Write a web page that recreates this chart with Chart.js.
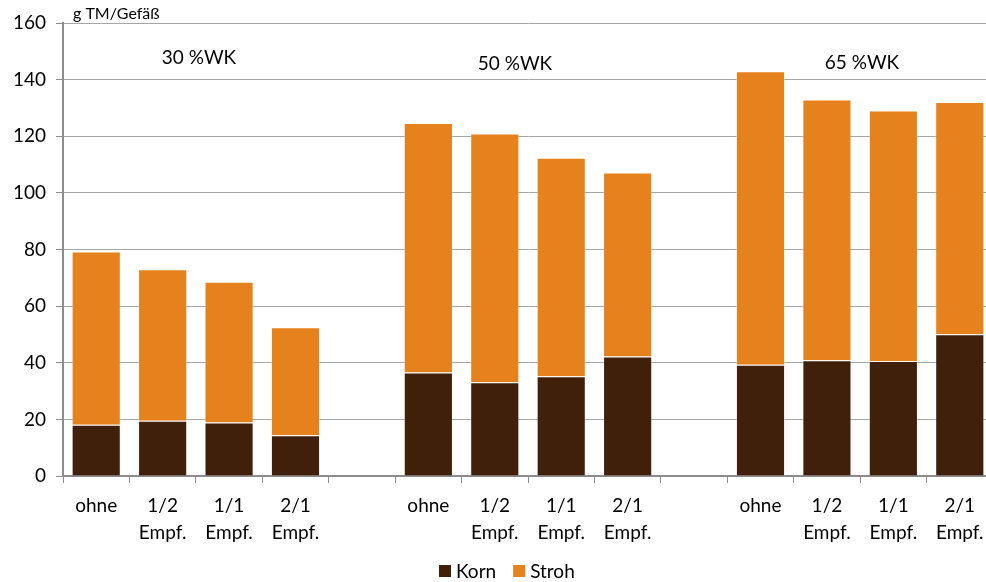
<!DOCTYPE html>
<html lang="de">
  <head>
    <meta charset="UTF-8" />
    <title>g TM/Gefäß</title>
    <script src="https://cdn.jsdelivr.net/npm/chart.js"></script>
    <style>
      html, body { margin: 0; padding: 0; background: #fff; overflow: hidden; }
      .wrap { width: 1000px; height: 582px; }
    </style>
  </head>
  <body>
    <div class="wrap"><canvas id="chart"></canvas></div>
    <script>
      // Kategorien (leere Einträge = Lücken zwischen den Gruppen)
      const categories = [
        "ohne", ["1/2", "Empf."], ["1/1", "Empf."], ["2/1", "Empf."], "",
        "ohne", ["1/2", "Empf."], ["1/1", "Empf."], ["2/1", "Empf."], "",
        "ohne", ["1/2", "Empf."], ["1/1", "Empf."], ["2/1", "Empf."]
      ];
      const korn = [18.1, 19.5, 18.9, 14.4, null, 36.6, 33.1, 35.2, 42.2, null, 39.3, 40.9, 40.6, 50.1];
      const stroh = [61.2, 53.5, 49.7, 38.1, null, 88.1, 87.9, 77.2, 65.0, null, 103.7, 92.1, 88.5, 82.0];
      const groupLabels = ["30 %WK", "50 %WK", "65 %WK"];
      const yTitle = "g TM/Gefäß";

      const FONT = "Lato, 'Open Sans', sans-serif";

      // Gruppenbeschriftungen, Achsentitel und Legende unten
      const labelPlugin = {
        id: "labels",
        afterDraw(chart) {
          const ctx = chart.ctx;
          ctx.save();
          ctx.fillStyle = "#000";
          ctx.font = "16px " + FONT;
          ctx.textAlign = "left";
          ctx.textBaseline = "middle";
          ctx.fillText(yTitle, 73, 14);
          ctx.font = "19px " + FONT;
          ctx.textAlign = "center";
          const pos = [[199, 58], [515, 64], [862, 63]];
          groupLabels.forEach((t, i) => ctx.fillText(t, pos[i][0], pos[i][1]));

          // Legende
          ctx.font = "19px " + FONT;
          ctx.textAlign = "left";
          let x = 439;
          const y = 571;
          chart.data.datasets.forEach((ds) => {
            ctx.fillStyle = ds.backgroundColor;
            ctx.fillRect(x, y - 6, 12, 12);
            ctx.fillStyle = "#000";
            ctx.fillText(ds.label, x + 17, y + 1);
            x += 17 + ctx.measureText(ds.label).width + 17;
          });
          ctx.restore();
        }
      };

      new Chart(document.getElementById("chart"), {
        type: "bar",
        data: {
          labels: categories,
          datasets: [
            { label: "Korn", data: korn, backgroundColor: "#40200A", borderColor: "rgba(255,255,255,0.4)", borderWidth: 1, barPercentage: 0.74, categoryPercentage: 1 },
            { label: "Stroh", data: stroh, backgroundColor: "#E5821E", borderColor: "rgba(255,255,255,0.4)", borderWidth: 1, barPercentage: 0.74, categoryPercentage: 1 }
          ]
        },
        options: {
          responsive: true,
          maintainAspectRatio: false,
          animation: false,
          layout: { padding: { top: 23, right: 7, left: 0, bottom: 0 } },
          plugins: {
            tooltip: { enabled: false },
            legend: { display: false }
          },
          scales: {
            x: {
              stacked: true,
              grid: { drawOnChartArea: false, color: "#8c8c8c", tickLength: 7, tickColor: "#8c8c8c" },
              border: { color: "#8c8c8c", width: 2 },
              ticks: { font: { family: FONT, size: 19, lineHeight: 1.45 }, color: "#000", maxRotation: 0, autoSkip: false, padding: 9 },
              afterFit: (s) => { s.height = 106; }
            },
            y: {
              stacked: true,
              min: 0,
              max: 160,
              grid: { color: "#a6a6a6", lineWidth: 1, tickLength: 7, tickColor: "#8c8c8c" },
              border: { color: "#8c8c8c", width: 2 },
              ticks: { stepSize: 20, font: { family: FONT, size: 19 }, color: "#000", padding: 10 },
              afterFit: (s) => { s.width = 63; }
            }
          }
        },
        plugins: [labelPlugin]
      });
    </script>
  </body>
</html>
